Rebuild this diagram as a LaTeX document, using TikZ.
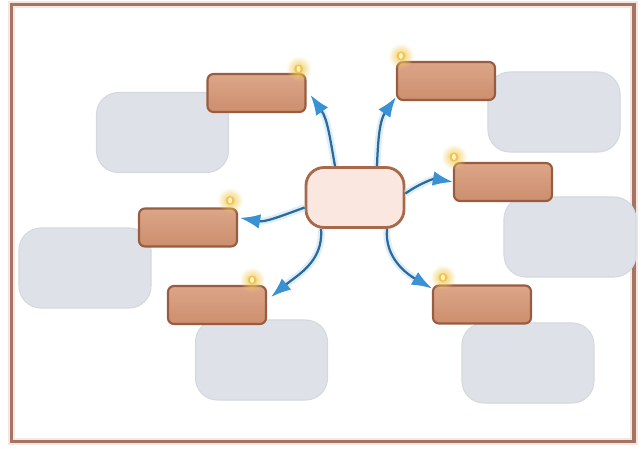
\documentclass[tikz,border=0pt]{standalone}
\usetikzlibrary{arrows.meta}
\usetikzlibrary{calc,fadings}

\definecolor{framecol}{HTML}{A47464}
\definecolor{framehalo}{HTML}{F6E6E0}
\definecolor{grayfill}{HTML}{DEE2E8}
\definecolor{grayline}{HTML}{D4D9E0}
\definecolor{brownlight}{HTML}{DCA688}
\definecolor{browndark}{HTML}{CC8E6E}
\definecolor{brownline}{HTML}{9A5C40}
\definecolor{hubfill}{HTML}{FAE7DF}
\definecolor{hubline}{HTML}{A8684A}
\definecolor{arrdark}{HTML}{2C6A9C}
\definecolor{arrtip}{HTML}{3A92D4}
\definecolor{arrglow}{HTML}{B4DAF2}
\definecolor{glowcol}{HTML}{F0CC5C}
\definecolor{glowcore}{HTML}{FFF4C0}

\tikzfading[name=softglow, inner color=transparent!0, outer color=transparent!100]

\begin{document}
\begin{tikzpicture}[x=0.025cm, y=-0.025cm,
  cloud/.style={draw=grayline, line width=0.8pt, fill=grayfill, rounded corners=0.55cm,
    minimum width=3.3cm, minimum height=2cm},
  leaf/.style={draw=brownline, line width=1.5pt, top color=brownlight, bottom color=browndark,
    rounded corners=0.15cm, minimum width=2.45cm, minimum height=0.95cm},
  hub/.style={draw=hubline, line width=2pt, fill=hubfill, rounded corners=0.45cm,
    minimum width=2.45cm, minimum height=1.5cm},
  spoke/.style={draw=arrdark, line width=1.6pt, -{Latex[length=0.5cm,width=0.36cm,color=arrtip]},
    preaction={draw=arrglow, line width=5pt, opacity=0.45}}]
\useasboundingbox (0,0) rectangle (643,448);

% frame
\draw[framehalo, line width=5pt] (11.5,4.5) rectangle (634,441.5);
\draw[framecol, line width=2.2pt] (11.5,4.5) rectangle (634,441.5);

% grey boxes
\node[cloud] (g1) at (162.5,132.5) {};
\node[cloud] (g2) at (554,112) {};
\node[cloud] (g3) at (570,237) {};
\node[cloud] (g4) at (85,268) {};
\node[cloud] (g5) at (261.5,360) {};
\node[cloud] (g6) at (528,363) {};

% brown boxes
\node[leaf] (b1) at (256.5,93) {};
\node[leaf] (b2) at (446,81) {};
\node[leaf] (b3) at (503,182) {};
\node[leaf] (b4) at (188,227.5) {};
\node[leaf] (b5) at (217,305) {};
\node[leaf] (b6) at (482,304.5) {};

\node[hub] (c) at (355,197.5) {};

% arrows
\draw[spoke] ([xshift=-0.5cm]c.north) to[out=100,in=-55] ([xshift=0.1cm,yshift=-0.05cm]b1.east);
\draw[spoke] ([xshift=0.55cm]c.north) to[out=88,in=-125] ([yshift=0.1cm]b2.south west);
\draw[spoke] ([yshift=0.1cm]c.east) to[out=35,in=170] (b3.west);
\draw[spoke] ([yshift=-0.25cm]c.west) to[out=200,in=-10] ([xshift=0.05cm,yshift=0.24cm]b4.east);
\draw[spoke] ([xshift=-0.85cm]c.south) to[out=-85,in=40] ([xshift=0.1cm,yshift=0.2cm]b5.east);
\draw[spoke] ([xshift=0.8cm]c.south) to[out=-95,in=150] ([yshift=-0.1cm]b6.north west);

% glow spots
\foreach \n/\a/\d/\e in {b1/north east/-8/-4, b2/north west/5/-5, b3/north west/1/-5,
    b4/north east/-8/-7, b5/north east/-15/-5, b6/north west/11/-7}{
  \fill[glowcol, path fading=softglow] ($(\n.\a)+(\d,\e)$) circle (13);
  \fill[glowcol!85!orange, opacity=0.9] ($(\n.\a)+(\d,\e)$) circle (4.5);
  \fill[glowcore] ($(\n.\a)+(\d,\e)$) ellipse (2 and 3);
}
\end{tikzpicture}
\end{document}
